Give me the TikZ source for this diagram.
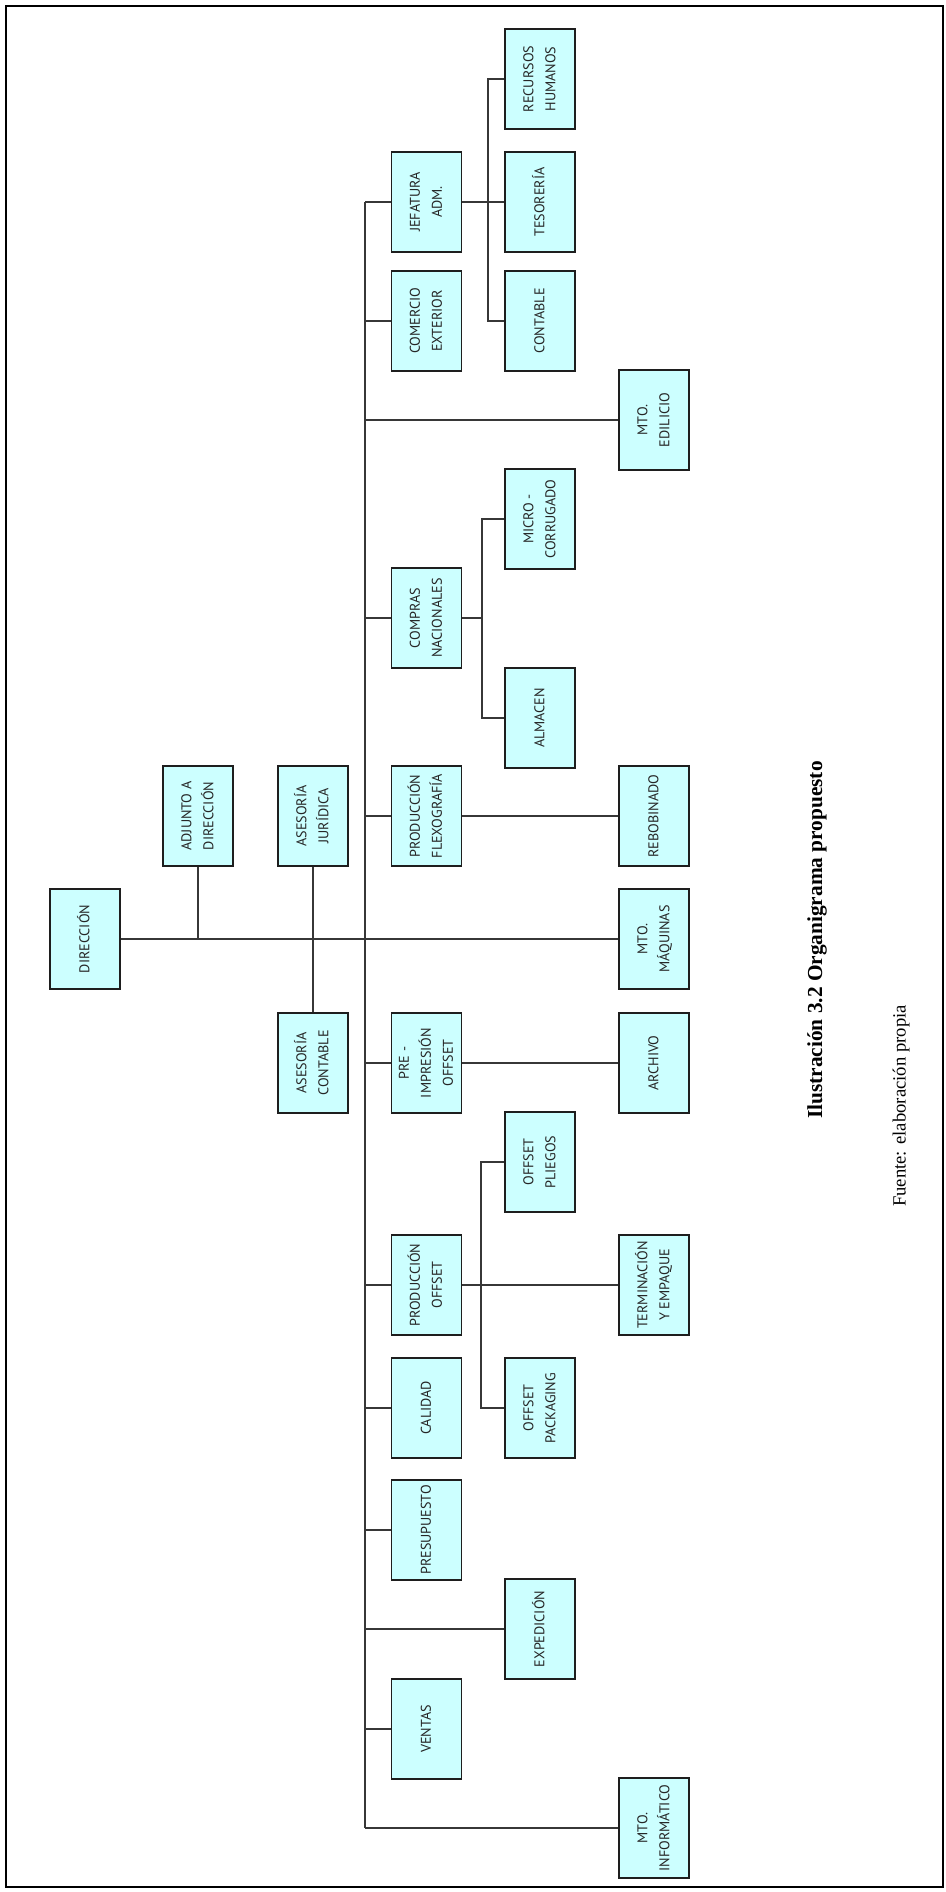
\documentclass[tikz,border=0pt]{standalone}
\usepackage{fontspec}
\setmainfont{Liberation Serif}
\newfontfamily\boxfont{PT Sans}
\usepackage{graphicx}
\definecolor{boxfill}{RGB}{204,255,255}
\definecolor{edgecol}{RGB}{30,30,30}
\definecolor{wirecol}{RGB}{55,55,55}
\newcommand{\vlab}[1]{\rotatebox{90}{\begin{tabular}{@{}c@{}}#1\end{tabular}}}
\begin{document}
\begin{tikzpicture}[x=0.75pt,y=-0.75pt,
  unit/.style={draw=edgecol, line width=1.1pt, fill=boxfill,
    minimum width=52.5pt, minimum height=75pt, inner sep=0pt,
    font=\boxfont\fontsize{10.6}{16.5}\selectfont, text=black!85},
  wire/.style={draw=wirecol, line width=0.8pt},
  frame/.style={draw=black, line width=1.3pt}]
\useasboundingbox (0,0) rectangle (946,1892);
\draw[frame] (6,6) rectangle (943,1887);

% column 0-2
\node[unit] (dir) at (85,939) {\vlab{DIRECCIÓN}};
\node[unit] (adj) at (198,816) {\vlab{ADJUNTO A\\DIRECCIÓN}};
\node[unit] (ajur) at (313,816) {\vlab{ASESORÍA\\JURÍDICA}};
\node[unit] (acont) at (313,1063) {\vlab{ASESORÍA\\CONTABLE}};
% level 2
\node[unit] (jef) at (426.5,202) {\vlab{JEFATURA\\ADM.}};
\node[unit] (com) at (426.5,321) {\vlab{COMERCIO\\EXTERIOR}};
\node[unit] (cnac) at (426.5,618) {\vlab{COMPRAS\\NACIONALES}};
\node[unit] (pflex) at (426.5,816) {\vlab{PRODUCCIÓN\\FLEXOGRAFÍA}};
\node[unit] (pre) at (426.5,1063) {\vlab{PRE -\\IMPRESIÓN\\OFFSET}};
\node[unit] (poff) at (426.5,1285) {\vlab{PRODUCCIÓN\\OFFSET}};
\node[unit] (cal) at (426.5,1408) {\vlab{CALIDAD}};
\node[unit] (pres) at (426.5,1530) {\vlab{PRESUPUESTO}};
\node[unit] (ven) at (426.5,1729) {\vlab{VENTAS}};
% level 3
\node[unit] (rh) at (540,79) {\vlab{RECURSOS\\HUMANOS}};
\node[unit] (tes) at (540,202) {\vlab{TESORERÍA}};
\node[unit] (cont) at (540,321) {\vlab{CONTABLE}};
\node[unit] (micro) at (540,519) {\vlab{MICRO -\\CORRUGADO}};
\node[unit] (alm) at (540,718) {\vlab{ALMACEN}};
\node[unit] (opl) at (540,1162) {\vlab{OFFSET\\PLIEGOS}};
\node[unit] (opk) at (540,1408) {\vlab{OFFSET\\PACKAGING}};
\node[unit] (exped) at (540,1629) {\vlab{EXPEDICIÓN}};
% level 4
\node[unit] (medi) at (654,420) {\vlab{MTO.\\EDILICIO}};
\node[unit] (reb) at (654,816) {\vlab{REBOBINADO}};
\node[unit] (mmaq) at (654,939) {\vlab{MTO.\\MÁQUINAS}};
\node[unit] (arch) at (654,1063) {\vlab{ARCHIVO}};
\node[unit] (term) at (654,1285) {\vlab{TERMINACIÓN\\Y EMPAQUE}};
\node[unit] (minf) at (654,1828) {\vlab{MTO.\\INFORMÁTICO}};

% helper coordinates
\coordinate (spx) at (365,0);
\coordinate (jx) at (488,0);
\coordinate (cx) at (482,0);
\coordinate (ox) at (481,0);

% top connections
\draw[wire] (dir.east) -- (mmaq.west);
\draw[wire] (adj.south) -- (adj.south |- dir.east);
\draw[wire] (ajur.south) -- (acont.north);

% spine
\draw[wire] (jef.west -| spx) -- (minf.west -| spx);
\foreach \n in {jef,com,cnac,pflex,pre,poff,cal,pres,ven,medi,exped,minf}
  \draw[wire] (\n.west) -- (\n.west -| spx);

% jefatura branch
\draw[wire] (jef.east) -- (tes.west);
\draw[wire] (rh.west) -- (rh.west -| jx) -- (cont.west -| jx) -- (cont.west);
% compras branch
\draw[wire] (cnac.east) -- (cnac.east -| cx);
\draw[wire] (micro.west) -- (micro.west -| cx) -- (alm.west -| cx) -- (alm.west);
% other branches
\draw[wire] (pflex.east) -- (reb.west);
\draw[wire] (pre.east) -- (arch.west);
\draw[wire] (poff.east) -- (term.west);
\draw[wire] (opl.west) -- (opl.west -| ox) -- (opk.west -| ox) -- (opk.west);

% captions
\node[rotate=90, font=\bfseries\fontsize{16}{19}\selectfont] (title) at (817,940)
  {Ilustración 3.2 Organigrama propuesto};
\node[rotate=90, font=\fontsize{14}{17}\selectfont] (src) at (901,1106)
  {Fuente: elaboración propia};
\end{tikzpicture}
\end{document}
